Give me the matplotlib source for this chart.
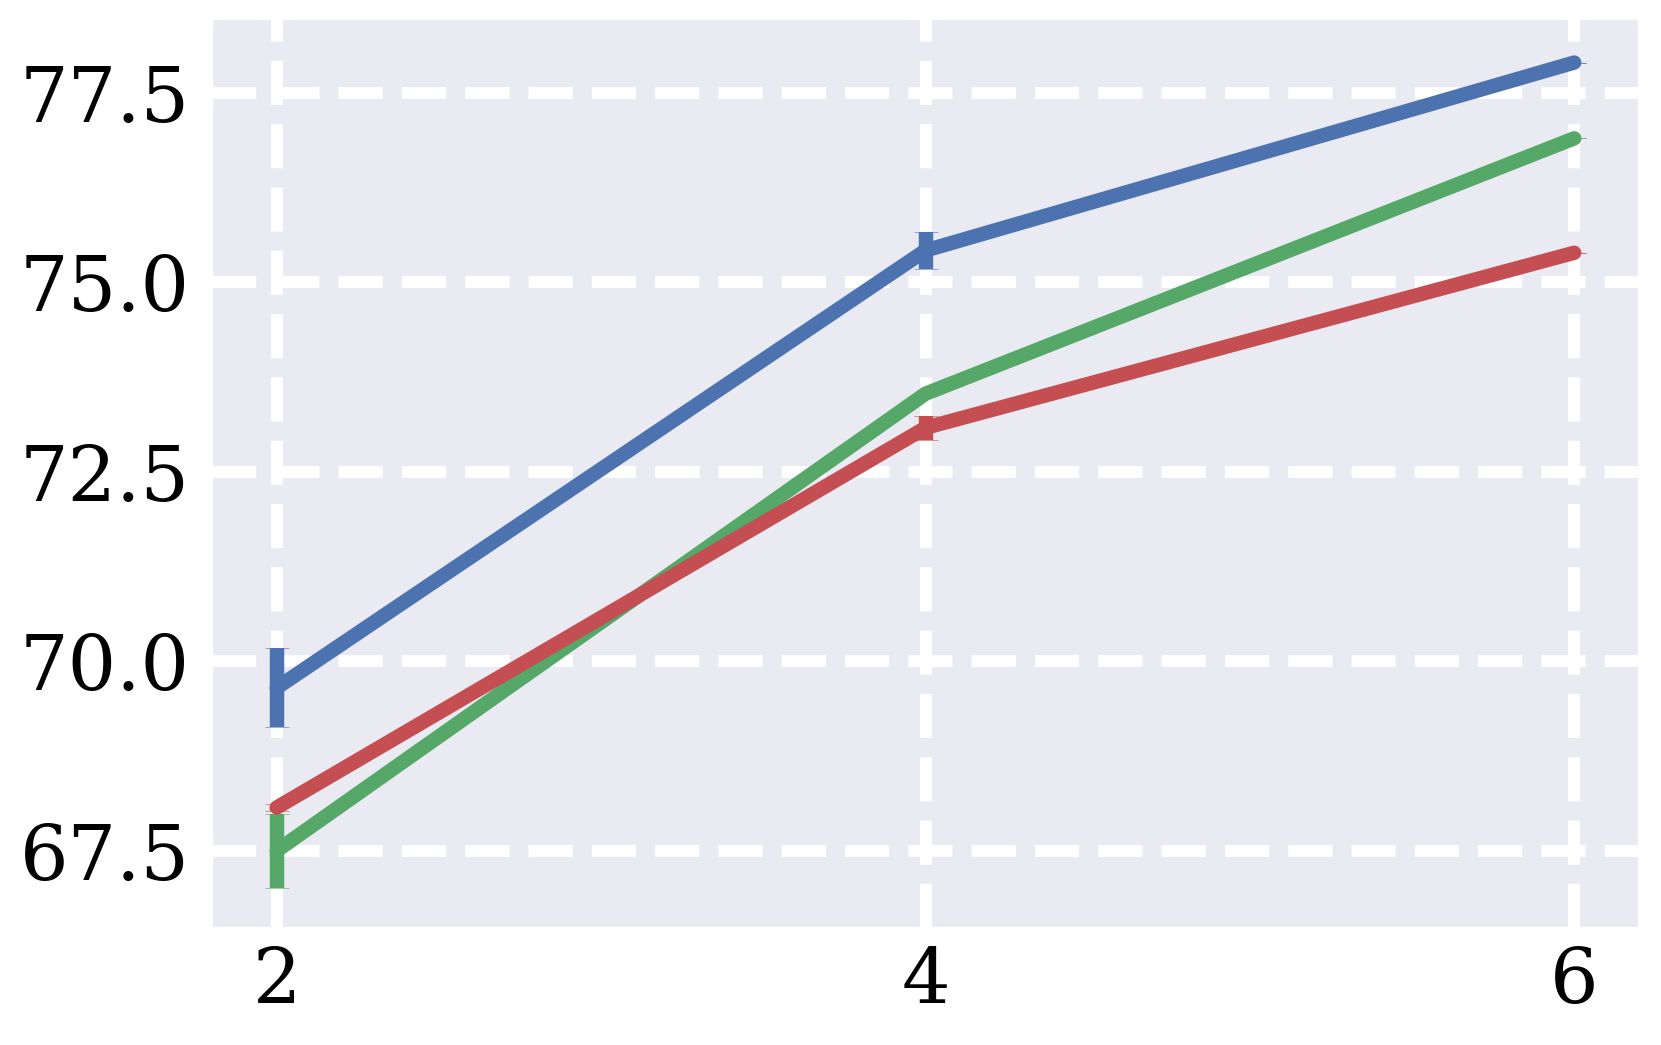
import matplotlib
matplotlib.use("Agg")
import matplotlib.pyplot as plt
import seaborn as sns

sns.set_style("darkgrid")
plt.rcParams['font.family'] = ['DejaVu Serif']

# data
x = [2, 4, 6]
blue_y = [69.65, 75.42, 77.9]
blue_err = [0.52, 0.25, 0.0]
green_y = [67.5, 73.53, 76.9]
green_err = [0.49, 0.0, 0.0]
red_y = [68.07, 73.08, 75.39]
red_err = [0.05, 0.16, 0.0]

colors = ['#4C72B0', '#55A868', '#C44E52']

fig = plt.figure(figsize=(8.305, 5.225), dpi=200)
ax = fig.add_axes([0.1276, 0.112, 0.8592, 0.8702])

for y, err, c in [(blue_y, blue_err, colors[0]),
                  (green_y, green_err, colors[1]),
                  (red_y, red_err, colors[2])]:
    ax.errorbar(x, y, yerr=err, color=c, lw=5.2, elinewidth=5.2,
                capsize=4.3, capthick=0.2, solid_capstyle='round')

ax.grid(True, color='white', linestyle='--', linewidth=4.3)
ax.set_xlim(1.8, 6.2)
ax.set_ylim(66.48, 78.48)
ax.set_xticks([2, 4, 6])
ax.set_yticks([67.5, 70.0, 72.5, 75.0, 77.5])
ax.tick_params(labelsize=27.5, length=0, labelcolor='black')
ax.tick_params(axis='y', pad=8)
ax.tick_params(axis='x', pad=6)

plt.savefig('out.png', dpi=200)
